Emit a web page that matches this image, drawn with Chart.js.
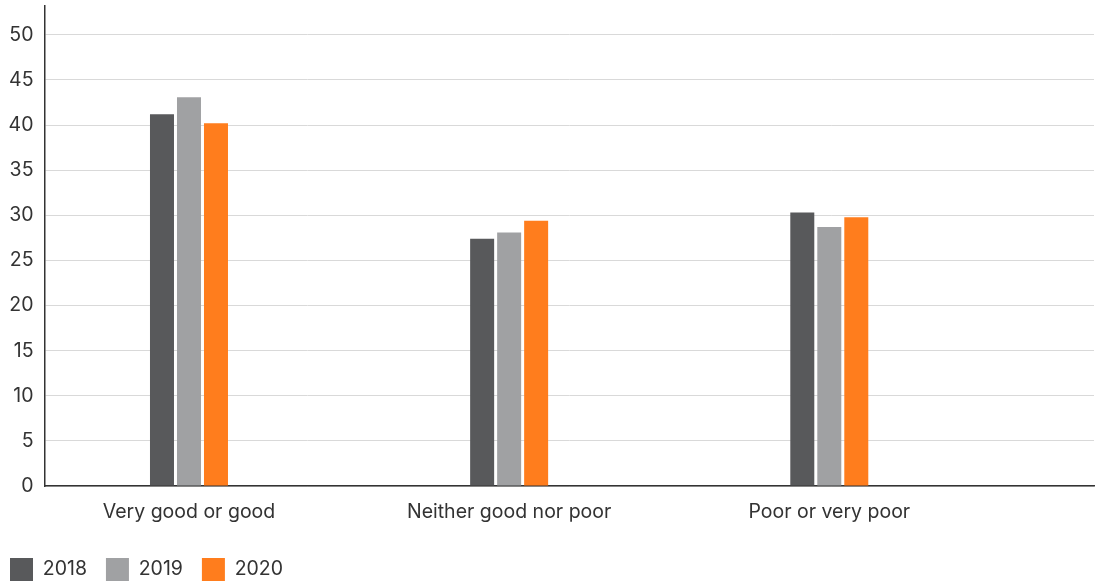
<!DOCTYPE html>
<html><head><meta charset="utf-8">
<script src="https://cdn.jsdelivr.net/npm/chart.js@4"></script>
<style>html,body{margin:0;padding:0;background:#fff}#wrap{width:1098px;height:583px;position:relative}</style>
</head><body><div id="wrap"><canvas id="c"></canvas></div>
<script>
const categories = ['Very good or good', 'Neither good nor poor', 'Poor or very poor'];
const years = ['2018', '2019', '2020'];
const values2018 = [41.2, 27.4, 30.3];
const values2019 = [43.1, 28.1, 28.7];
const values2020 = [40.2, 29.4, 29.8];
const yTicks = [0, 5, 10, 15, 20, 25, 30, 35, 40, 45, 50];
const colors = ['#58595b', '#a0a1a3', '#ff7d1d'];

const FONT = 'Inter';
const FS = 19.5;
const series = [values2018, values2019, values2020];

new Chart(document.getElementById('c'), {
  type: 'bar',
  data: {
    datasets: years.map((yr, k) => ({
      label: yr,
      data: categories.map((c, i) => ({x: i, y: series[k][i]})),
      backgroundColor: colors[k],
      borderWidth: 0,
      categoryPercentage: 81 / 320.15,
      barPercentage: 24 / 27
    }))
  },
  options: {
    responsive: true,
    maintainAspectRatio: false,
    animation: false,
    layout: {padding: {left: -9, right: 4, top: 6, bottom: -8}},
    plugins: {
      tooltip: {enabled: false},
      legend: {
        position: 'bottom',
        align: 'start',
        labels: {
          boxWidth: 23, boxHeight: 23, padding: 19,
          color: '#333', font: {family: FONT, size: FS}
        }
      }
    },
    scales: {
      x: {
        type: 'linear',
        offset: false,
        min: -0.4513, max: 2.8268,
        grid: {display: false, drawTicks: false, offset: false},
        border: {display: true, color: '#333', width: 1.5},
        afterBuildTicks(s) { s.ticks = categories.map((c, i) => ({value: i})); },
        afterFit(s) { s.height = 53; s.paddingLeft = 0; s.paddingRight = 0; },
        ticks: {
          padding: 14, color: '#333', font: {family: FONT, size: FS},
          maxRotation: 0, autoSkip: false,
          callback: (v) => categories[v]
        }
      },
      y: {
        min: 0, max: 53.2,
        afterBuildTicks(s) { s.ticks = yTicks.map(v => ({value: v})); },
        afterFit(s) { s.width = 53.5; s.paddingTop = 0; s.paddingBottom = 0; },
        grid: {color: '#d9d9d9', lineWidth: 1, drawTicks: false},
        border: {display: true, color: '#333', width: 1.5},
        ticks: {padding: 11, color: '#333', font: {family: FONT, size: FS}}
      }
    }
  }
});
</script></body></html>
